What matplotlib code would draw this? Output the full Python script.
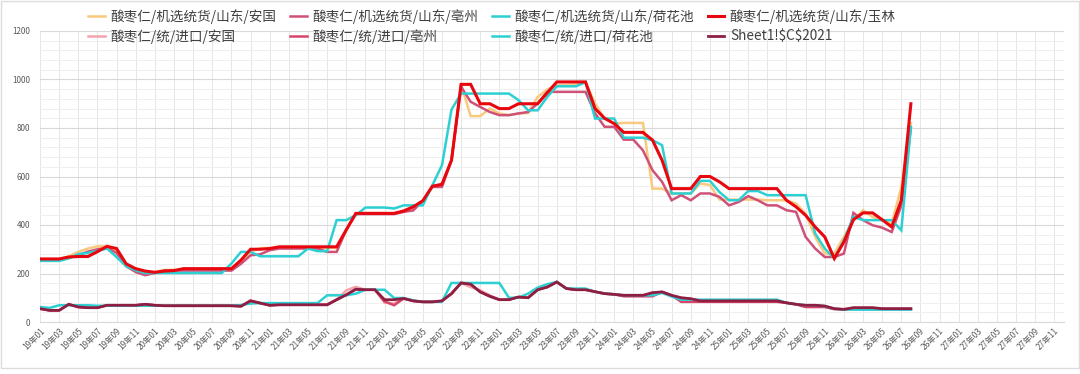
import matplotlib
matplotlib.use('Agg')
import matplotlib.pyplot as plt
from matplotlib.ticker import MultipleLocator
from matplotlib.patches import Rectangle

plt.rcParams['font.family'] = ['Noto Sans CJK SC', 'DejaVu Sans']

# months 19-01 .. 27-12
months = [f'{y}年{m:02d}' for y in range(19, 28) for m in range(1, 13)]

jx_anguo = [257, 257, 257, 271, 289, 303, 312, 312, 289, 234, 216, 202, 206,
            215, 215, 215, 215, 215, 215, 215, 215, 250, 290,
            305, 305, 305, 305, 305, 305, 305, 305, 305, 380,
            448, 448, 448, 448, 448, 455, 470, 495, 560, 565, 670, 980,
            849, 849, 880, 860, 853, 860, 862, 928, 959, 977, 977, 980, 989,
            901, 839, 818, 821, 821, 821, 550, 550, 530, 530, 530, 571, 565,
            505, 505, 505, 505, 505, 502, 502, 502, 488, 447, 351, 282, 282,
            351, 420, 461, 433, 420, 406, 557, 820]
jx_bozhou = [255, 255, 255, 265, 275, 290, 300, 305, 285, 230, 206, 193, 202,
             212, 212, 212, 212, 212, 212, 212, 212, 240, 275, 279, 296,
             303, 303, 303, 303, 303, 289, 289, 380,
             445, 445, 445, 445, 445, 454, 460, 500, 557, 557, 667, 970,
             908, 887, 866, 853, 853, 860, 866, 901, 949, 949, 949, 949, 949,
             860, 805, 805, 752, 752, 708, 626, 578, 502, 523, 502, 530, 530,
             516, 481, 495, 519, 502, 481, 481, 461, 454, 351, 303, 268, 268,
             282, 450, 420, 399, 389, 371, 480, 800]
jx_hehuachi = [252, 252, 252, 262, 280, 285, 293, 303, 268, 230, 213, 202,
               202, 202, 202, 202, 202, 202, 202, 202, 241, 289, 289,
               271, 271, 271, 271, 271, 303, 292, 292, 420, 420, 440,
               472, 472, 472, 468, 481, 481, 481, 564, 646, 876,
               942, 942, 942, 942, 942, 942, 915, 873, 873, 928, 972, 972, 972,
               989, 839, 839, 839, 760, 760, 760, 750, 729, 530, 530, 530,
               582, 582, 536, 502, 502, 540, 540, 523, 523, 523, 523, 523,
               365, 303, 262, 337, 434, 420, 420, 420, 420, 378, 805]
jx_yulin = [260, 260, 260, 268, 270, 270, 290, 312, 303, 240, 220, 210, 205,
            210, 212, 220, 220, 220, 220, 220, 220, 255, 300, 300, 303,
            310, 310, 310, 310, 310, 310, 310, 380,
            448, 448, 448, 448, 448, 458, 475, 500, 560, 568, 667, 980, 980,
            900, 900, 880, 880, 900, 900, 900, 945, 990, 990, 990, 990,
            880, 840, 818, 782, 782, 782, 750, 667, 550, 550, 550, 600, 600,
            578, 550, 550, 550, 550, 550, 550, 502, 475, 440, 392, 351, 262,
            330, 422, 450, 450, 422, 392, 502, 900]
jk_anguo = [55, 48, 48, 73, 62, 59, 59, 69, 69, 69, 69, 73, 69,
            67, 67, 67, 67, 67, 67, 67, 67, 65, 90, 78, 69,
            71, 71, 71, 71, 71, 71, 92, 130, 145, 133, 133, 80, 76,
            97, 87, 83, 83, 87, 117, 161, 144, 131, 110, 92, 92, 103, 100,
            133, 144, 165, 138, 133, 133, 125, 117, 114, 110, 110, 110, 121,
            124, 110, 100, 96, 87, 87, 87, 87, 87, 87, 87, 87, 87, 79, 73,
            62, 62, 62, 55, 52, 59, 59, 59, 55, 55, 55, 55]
jk_bozhou = [55, 48, 48, 73, 62, 59, 59, 69, 69, 69, 69, 73, 69,
             67, 67, 67, 67, 67, 67, 67, 67, 65, 87, 78, 69,
             71, 71, 71, 71, 71, 71, 92, 112, 135, 133, 133, 85, 69,
             97, 87, 83, 83, 87, 117, 161, 156, 124, 106, 92, 92, 103, 100,
             133, 144, 165, 138, 133, 133, 125, 117, 114, 106, 106, 106, 106,
             124, 110, 83, 83, 83, 83, 83, 83, 83, 83, 83, 83, 83, 79, 73,
             62, 62, 62, 53, 53, 53, 53, 53, 53, 53, 53, 53]
jk_hehuachi = [62, 58, 69, 69, 69, 69, 67, 67, 67, 67, 67, 67, 67,
               67, 67, 67, 67, 67, 67, 67, 67, 70, 76, 78, 78,
               78, 78, 78, 78, 78, 110, 110, 110, 117, 133, 133, 133, 99,
               99, 89, 83, 83, 83, 161, 161, 161, 161, 161, 161, 100, 100, 117,
               142, 156, 165, 138, 138, 138, 124, 117, 114, 110, 110, 110, 110,
               120, 105, 92, 92, 92, 92, 92, 92, 92, 92, 92, 92, 92, 79, 73,
               69, 69, 65, 55, 51, 51, 51, 51, 51, 51, 51, 51]
sheet1 = [55, 48, 48, 73, 62, 59, 59, 69, 69, 69, 69, 73, 69,
          67, 67, 67, 67, 67, 67, 67, 67, 65, 87, 78, 69,
          71, 71, 71, 71, 71, 71, 92, 112, 135, 133, 133, 92, 92,
          97, 87, 83, 83, 87, 117, 161, 156, 124, 106, 92, 92, 103, 100,
          133, 144, 165, 138, 133, 133, 125, 117, 114, 110, 110, 110, 121,
          124, 110, 100, 96, 87, 87, 87, 87, 87, 87, 87, 87, 87, 79, 73,
          69, 69, 66, 55, 52, 59, 59, 59, 55, 55, 55, 55]

series = [
    ('酸枣仁/机选统货/山东/安国', jx_anguo, '#F9C97E', 1.8),
    ('酸枣仁/机选统货/山东/亳州', jx_bozhou, '#CF5177', 1.8),
    ('酸枣仁/机选统货/山东/荷花池', jx_hehuachi, '#2DD0D2', 1.8),
    ('酸枣仁/机选统货/山东/玉林', jx_yulin, '#E8070F', 2.2),
    ('酸枣仁/统/进口/安国', jk_anguo, '#F4A3AA', 1.8),
    ('酸枣仁/统/进口/亳州', jk_bozhou, '#D8456B', 1.8),
    ('酸枣仁/统/进口/荷花池', jk_hehuachi, '#2DD0D2', 1.8),
    (r'Sheet1!\$C\$2021', sheet1, '#8E1F42', 2.0),
]

fig = plt.figure(figsize=(10.8, 3.74), dpi=100)
ax = fig.add_axes([40 / 1080, 1 - 322 / 374, 1024 / 1080, 291 / 374])

lines = []
for name, vals, color, lw in series:
    ln, = ax.plot(range(len(vals)), vals, color=color, lw=lw, label=name,
                  solid_joinstyle='miter')
    lines.append(ln)

ax.set_xlim(0, 107)
ax.set_ylim(0, 1200)
ax.yaxis.set_major_locator(MultipleLocator(200))
ax.yaxis.set_minor_locator(MultipleLocator(40))
ax.set_xticks(range(0, 108, 2))
ax.set_xticklabels(months[::2], rotation=45, ha='right', va='top',
                   rotation_mode='anchor', fontsize=6, color='#595959')
ax.tick_params(axis='y', labelsize=5.8, labelcolor='#595959', length=0, pad=7)
ax.tick_params(axis='x', length=0, pad=3)
ax.tick_params(which='minor', length=0)
ax.grid(True, which='major', axis='y', color='#d9d9d9', lw=0.8)
ax.grid(True, which='minor', axis='y', color='#efefef', lw=0.7)
ax.grid(True, which='major', axis='x', color='#e6e6e6', lw=0.7)
ax.set_axisbelow(True)
for s in ['top', 'right', 'left']:
    ax.spines[s].set_visible(False)
ax.spines['bottom'].set_color('#d9d9d9')

order = [0, 4, 1, 5, 2, 6, 3, 7]
fig.legend([lines[k] for k in order], [series[k][0] for k in order],
           loc='upper left', bbox_to_anchor=(76 / 1080, 1.008), ncol=4,
           frameon=False, fontsize=9.8, handlelength=1.2, handletextpad=0.4,
           columnspacing=1.05, labelspacing=0.38, labelcolor='#404040')

fig.patches.append(Rectangle((0.001, 0.016), 0.998, 0.982, transform=fig.transFigure,
                             fill=False, edgecolor='#dcdcdc', lw=1.0))

fig.savefig('out.png', dpi=100)
